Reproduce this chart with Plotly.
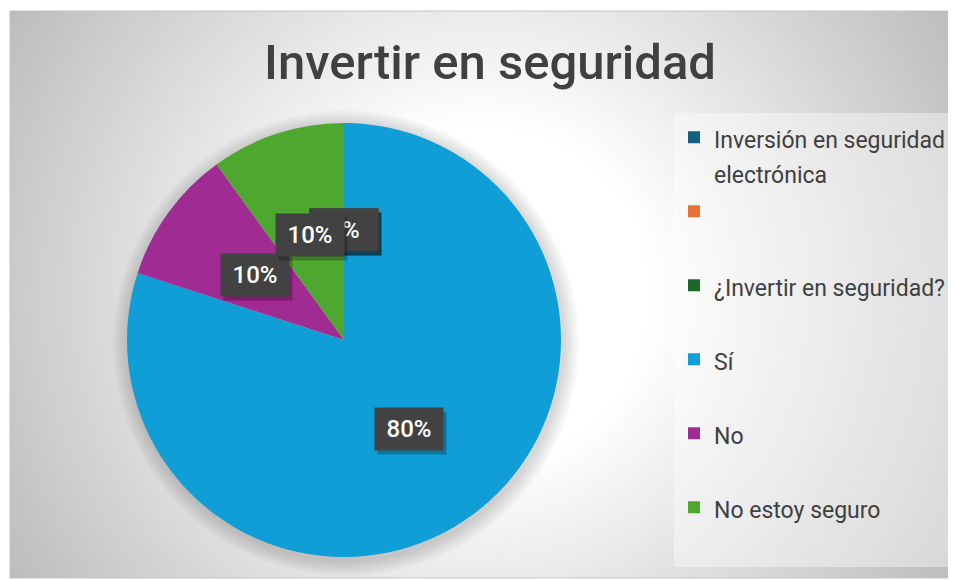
import math
import urllib.parse
import plotly.graph_objects as go

# ---------------- data ----------------
categories = ["Inversión en seguridad electrónica", "", "¿Invertir en seguridad?",
              "Sí", "No", "No estoy seguro"]
legend_lines = [["Inversión en seguridad", "electrónica"], [""], ["¿Invertir en seguridad?"],
                ["Sí"], ["No"], ["No estoy seguro"]]
values = [0, 0, 0, 80, 10, 10]
colors = ["#156082", "#E97132", "#196B24", "#0F9ED5", "#A02B93", "#4EA72E"]
title_text = "Invertir en seguridad"

# ---------------- geometry / style ----------------
OFF = 8                      # page body margin
W, H = 956 - OFF, 580 - OFF  # figure size


def px(sx):
    return (sx - OFF) / W


def py(sy):
    return 1 - (sy - OFF) / H


cx_s, cy_s, r_px = 344, 340, 217
dom_x = [px(cx_s - r_px), px(cx_s + r_px)]
dom_y = [py(cy_s + r_px), py(cy_s - r_px)]
label_r_frac = 0.507
TXT = "#404040"
LEG_FS = 23
LEG_LINE = 35.5  # legend line height in px


def leg_label(lines):
    spans = ['<span style="font-size:%dpx">%s</span>' % (LEG_FS, l if l else "\u00a0") for l in lines]
    while len(spans) < 2:
        spans.append("\u00a0")
    return "<br>".join(spans)


labels = [leg_label(l) for l in legend_lines]

fig = go.Figure()
fig.add_trace(go.Pie(
    labels=labels,
    values=values,
    marker=dict(colors=colors, line=dict(width=0)),
    sort=False,
    direction="clockwise",
    rotation=0,
    textinfo="none",
    hovertext=categories,
    hoverinfo="text+percent",
    domain=dict(x=dom_x, y=dom_y),
    showlegend=True,
))

# background gradient (svg data uri)
bx0, by0, bx1, by1 = 10, 11, 955, 578
bw, bh = bx1 - bx0, by1 - by0
svg = (
    f'<svg xmlns="http://www.w3.org/2000/svg" width="{bw}" height="{bh}">'
    f'<defs><radialGradient id="g" gradientUnits="userSpaceOnUse" cx="{bw/2}" cy="{bh/2}" r="{math.hypot(bw/2, bh/2)}">'
    '<stop offset="0" stop-color="#ffffff"/><stop offset="0.3" stop-color="#ffffff"/>'
    '<stop offset="1" stop-color="#bcbcbc"/></radialGradient></defs>'
    f'<rect width="{bw}" height="{bh}" fill="url(#g)"/></svg>'
)
src = "data:image/svg+xml;charset=utf-8," + urllib.parse.quote(svg)

shapes = []
# soft shadow around pie
for extra in [16, 14, 12, 10, 8, 6, 4, 2]:
    shapes.append(dict(type="circle", xref="paper", yref="paper", layer="below",
                       x0=px(cx_s - r_px - extra + 2), x1=px(cx_s + r_px + extra + 2),
                       y0=py(cy_s + r_px + extra + 3), y1=py(cy_s - r_px - extra + 3),
                       fillcolor="rgba(0,0,0,0.018)", line=dict(width=0)))
# chart border
shapes.append(dict(type="rect", xref="paper", yref="paper", layer="below",
                   x0=px(bx0), x1=px(bx1), y0=py(by1), y1=py(by0),
                   fillcolor="rgba(0,0,0,0)", line=dict(color="#c4c4c4", width=1)))

# data labels
annotations = []
total = sum(values)
cum = 0
for v in values:
    mid = (cum + v / 2) / total * 2 * math.pi
    cum += v
    pct = f"{round(v / total * 100)}%"
    rr = label_r_frac * r_px
    x = px(cx_s + rr * math.sin(mid))
    y = py(cy_s - rr * math.cos(mid))
    common = dict(xref="paper", yref="paper", x=x, y=y, xanchor="center", yanchor="middle",
                  showarrow=False, width=66, height=40, borderpad=1, text=pct)
    annotations.append(dict(**common, xshift=3, yshift=-4, bgcolor="rgba(0,0,0,0.25)",
                            font=dict(size=24, color="rgba(0,0,0,0)", family="Roboto")))
    annotations.append(dict(**common, bgcolor="#424242",
                            font=dict(size=24, color="white", family="Roboto", weight=500)))

fig.update_layout(
    width=W, height=H,
    margin=dict(l=0, r=0, t=0, b=0),
    paper_bgcolor="white",
    plot_bgcolor="white",
    title=dict(text=title_text, x=px(490), xanchor="center", y=py(62), yanchor="middle",
               xref="paper", yref="container",
               font=dict(size=49, color=TXT, family="Roboto", weight=500)),
    legend=dict(x=px(674), y=py(113), xanchor="left", yanchor="top",
                bgcolor="rgba(255,255,255,0.4)", borderwidth=0,
                font=dict(size=LEG_LINE / 1.3, color=TXT, family="Roboto"),
                valign="top", itemwidth=30),
    images=[dict(source=src, xref="paper", yref="paper", x=px(bx0), y=py(by0),
                 sizex=bw / W, sizey=bh / H, xanchor="left", yanchor="top",
                 sizing="stretch", layer="below")],
    shapes=shapes,
    annotations=annotations,
)

fig.write_html("out.html")
